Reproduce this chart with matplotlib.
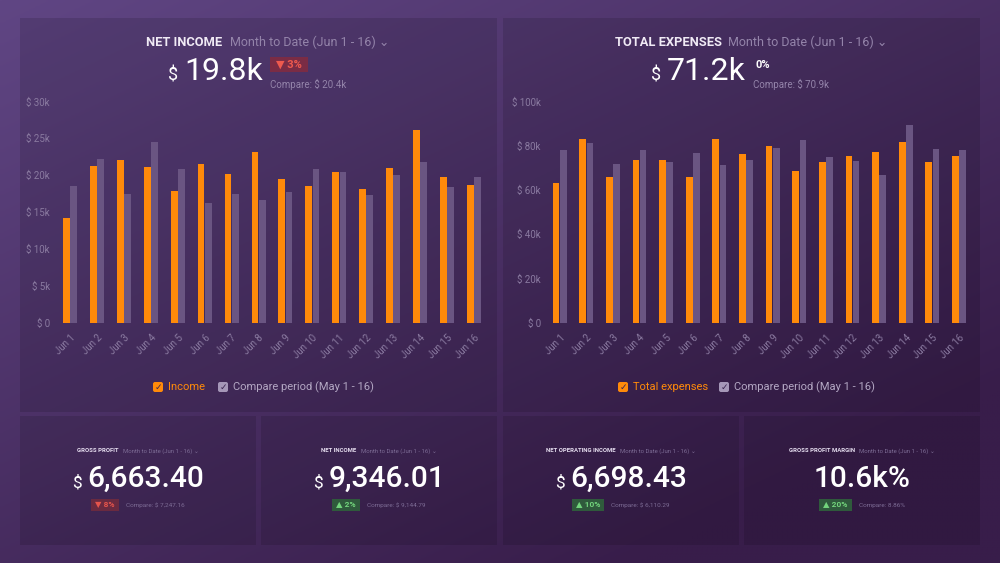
import numpy as np
import matplotlib.pyplot as plt
from matplotlib.patches import FancyBboxPatch, Rectangle

# data
days = ["Jun 1", "Jun 2", "Jun 3", "Jun 4", "Jun 5", "Jun 6", "Jun 7", "Jun 8",
        "Jun 9", "Jun 10", "Jun 11", "Jun 12", "Jun 13", "Jun 14", "Jun 15", "Jun 16"]
income = [14.2, 21.2, 22.0, 21.1, 17.9, 21.5, 20.2, 23.1,
          19.5, 18.5, 20.5, 18.1, 21.0, 26.1, 19.8, 18.7]
income_prev = [18.5, 22.2, 17.4, 24.5, 20.8, 16.2, 17.5, 16.6,
               17.8, 20.9, 20.5, 17.3, 20.1, 21.8, 18.4, 19.8]
expenses = [63.0, 83.2, 65.7, 73.7, 73.7, 65.9, 82.9, 76.1,
            80.0, 68.7, 72.5, 75.5, 77.3, 81.7, 72.6, 75.2]
expenses_prev = [77.9, 81.1, 71.9, 77.9, 72.8, 76.5, 71.3, 73.4,
                 78.8, 82.4, 75.0, 73.2, 66.9, 89.3, 78.5, 78.2]
income_ticks = [0, 5, 10, 15, 20, 25, 30]
expense_ticks = [0, 20, 40, 60, 80, 100]

# small number widgets: title, value, change, compare text
kpi_titles = ["GROSS PROFIT", "NET INCOME", "NET OPERATING INCOME", "GROSS PROFIT MARGIN"]
kpi_values = ["6,663.40", "9,346.01", "6,698.43", "10.6k%"]
kpi_changes = ["▼ 8%", "▲ 2%", "▲ 10%", "▲ 20%"]
kpi_compare = ["Compare: $ 7,247.16", "Compare: $ 9,144.79", "Compare: $ 6,110.29", "Compare: 8.86%"]

ORANGE = "#ff8a0a"
GREYBAR = "#6a5582"
TICK = "#8a7aa0"
MUTED = "#7d6c95"
FONT = ["Roboto", "DejaVu Sans"]
plt.rcParams["font.family"] = FONT

W, H = 1000, 563
fig = plt.figure(figsize=(10, 5.63), dpi=100)
renderer = fig.canvas.get_renderer()

# background gradient
bg = fig.add_axes([0, 0, 1, 1])
bg.set_xlim(0, W)
bg.set_ylim(H, 0)
bg.axis("off")
yy, xx = np.mgrid[0:1:200j, 0:1:200j]
t = np.clip(0.55 * xx + 0.65 * yy, 0, 1)[..., None]
c0 = np.array([0x60, 0x46, 0x84]) / 255
c1 = np.array([0x38, 0x1d, 0x4a]) / 255
bg.imshow(c0 * (1 - t) + c1 * t, extent=[0, W, H, 0], aspect="auto", zorder=0)

panels = [(20, 18, 477, 394), (503, 18, 477, 394),
          (20, 416, 236, 129), (261, 416, 236, 129),
          (503, 416, 236, 129), (744, 416, 236, 129)]
for x, y, w, h in panels:
    bg.add_patch(Rectangle((x, y), w, h, facecolor="black", alpha=0.12,
                           edgecolor="none", zorder=1))


def txt(x, y, s, size, color, weight="normal", ha="left", va="center"):
    return fig.text(x / W, 1 - y / H, s, fontsize=size, color=color, fontweight=weight,
                    ha=ha, va=va, family=FONT)


def width(t):
    return t.get_window_extent(renderer).width


def row(cx, y, parts):
    # parts: (text, size, color, weight, gap_after, badge_color or None)
    items = []
    for s, size, color, weight, gap, fc in parts:
        t = txt(0, y, s, size, color, weight)
        w = width(t) + (8 if fc else 0)
        items.append((t, w, gap, fc))
    total = sum(w + g for _, w, g, _ in items) - items[-1][2]
    x = cx - total / 2
    for t, w, gap, fc in items:
        if fc:
            bg.add_patch(Rectangle((x, y - 6), w, 12, facecolor=fc, edgecolor="none", zorder=2))
            t.set_x((x + 4) / W)
        else:
            t.set_x(x / W)
        x += w + gap


def badge(x0, x1, y0, y1, s, fc, tc, size):
    bg.add_patch(Rectangle((x0, y0), x1 - x0, y1 - y0, facecolor=fc,
                           edgecolor="none", zorder=2))
    txt((x0 + x1) / 2, (y0 + y1) / 2, s, size, tc, weight="bold", ha="center")


def bar_chart(rect, cur, prev, ticks, top, xlim):
    ax = fig.add_axes(rect)
    ax.patch.set_alpha(0)
    x = np.arange(len(days))
    ax.bar(x - 0.135, cur, width=0.25, color=ORANGE, zorder=3)
    ax.bar(x + 0.135, prev, width=0.25, color=GREYBAR, zorder=2)
    ax.set_ylim(0, top)
    ax.set_xlim(*xlim)
    ax.set_yticks(ticks)
    ax.set_yticklabels(["\\$ 0" if v == 0 else "\\$ %dk" % v for v in ticks])
    ax.set_xticks(x)
    ax.set_xticklabels(days, rotation=45, ha="right", rotation_mode="anchor")
    ax.tick_params(length=0, colors=TICK, labelsize=7, pad=3)
    ax.tick_params(axis="x", pad=7)
    for s in ax.spines.values():
        s.set_visible(False)
    return ax


bar_chart([0.054, 0.4263, 0.436, 0.3936], income, income_prev, income_ticks, 30, (-0.6, 15.6))
bar_chart([0.545, 0.4263, 0.430, 0.3936], expenses, expenses_prev, expense_ticks, 100, (-0.55, 15.6))

# headers of the two big widgets
txt(146, 42, "NET INCOME", 9.3, "#f0eaf5", weight="bold")
txt(230, 42, "Month to Date (Jun 1 - 16) ⌄", 9, "#9484aa")
txt(168, 76, "$", 13, "white")
txt(184, 72, "19.8k", 23, "white")
badge(270, 308, 57, 72, "▼ 3%", "#7a2c45", "#ef5a4e", 8)
txt(270, 84, "Compare: \\$ 20.4k", 7, "#9484aa")

txt(615, 42, "TOTAL EXPENSES", 9.3, "#f0eaf5", weight="bold")
txt(728, 42, "Month to Date (Jun 1 - 16) ⌄", 9, "#9484aa")
txt(651, 76, "$", 13, "white")
txt(667, 72, "71.2k", 23, "white")
txt(755, 65, "0%", 8, "white", weight="bold")
txt(753, 84, "Compare: \\$ 70.9k", 7, "#9484aa")

# legends
for bx, label, col in [(153, "Income", ORANGE), (218, "Compare period (May 1 - 16)", "#b4a8c4"),
                       (618, "Total expenses", ORANGE), (719, "Compare period (May 1 - 16)", "#b4a8c4")]:
    box = ORANGE if col == ORANGE else "#a597b8"
    bg.add_patch(FancyBboxPatch((bx, 382), 10, 10, boxstyle="round,pad=0,rounding_size=2",
                                facecolor=box, edgecolor="none", zorder=2))
    txt(bx + 5, 387, "✓", 6.5, "#3a2450", weight="bold", ha="center")
    txt(bx + 15, 387.5, label, 8, col)

# small KPI widgets
for i in range(4):
    x, y, w, h = panels[i + 2]
    cx = x + w / 2
    row(cx, 451, [(kpi_titles[i], 4.3, "#e6def0", "bold", 4, None),
                  ("Month to Date (Jun 1 - 16) ⌄", 4.3, MUTED, "normal", 0, None)])
    val = kpi_values[i]
    if val.endswith("%"):
        row(cx, 479, [(val, 21.5, "white", "medium", 0, None)])
    else:
        t_d = txt(0, 483, "$", 12.5, "white")
        t_v = txt(0, 479, val, 21.5, "white", weight="medium")
        wd, wv = width(t_d), width(t_v)
        x0 = cx - (wd + 6 + wv) / 2
        t_d.set_x(x0 / W)
        t_v.set_x((x0 + wd + 6) / W)
    neg = kpi_changes[i].startswith("▼")
    row(cx, 505, [(kpi_changes[i], 6, "#e5544c" if neg else "#72d47c", "bold", 7,
                   "#6a2a40" if neg else "#2f5a3c"),
                  (kpi_compare[i].replace("$", "\\$"), 4.6, MUTED, "normal", 0, None)])

fig.savefig("out.png", dpi=100)
